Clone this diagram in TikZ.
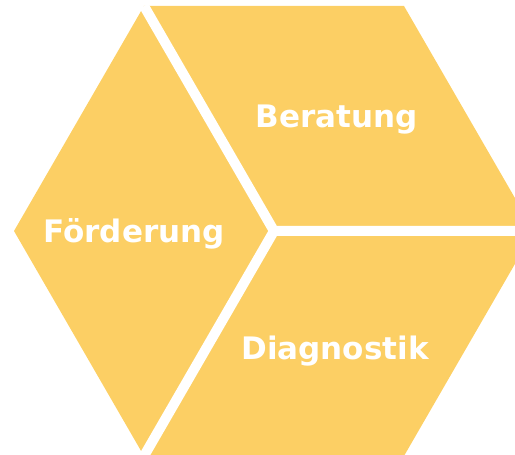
\documentclass[tikz,border=0pt]{standalone}
\usepackage{fontspec}
\setmainfont{DejaVu Sans}
\usepackage{xcolor}
\usepackage{tikz}
\definecolor{gelb}{RGB}{252,207,100}
\tikzset{
 feld/.style={fill=gelb, draw=none},
 fuge/.style={white, line width=10pt},
 wort/.style={text=white, font=\bfseries\fontsize{31}{34}\selectfont, anchor=base}
}

\begin{document}
\begin{tikzpicture}[x=1pt,y=1pt]
 \useasboundingbox (0,0) rectangle (515,455);
 \clip (0,0) rectangle (515,455);
 \coordinate (m) at (274,224);
 \coordinate (l) at (14,224);
 \coordinate (ol) at (144,449);
 \coordinate (or) at (404,449);
 \coordinate (r) at (534,224);
 \coordinate (ur) at (404,-1);
 \coordinate (ul) at (144,-1);
 % Rauten
 \fill[feld] (l) -- (ol) -- (m) -- (ul) -- cycle;
 \fill[feld] (ol) -- (or) -- (r) -- (m) -- cycle;
 \fill[feld] (m) -- (r) -- (ur) -- (ul) -- cycle;
 % Fugen
 \draw[fuge] (m) -- (ol)
 	(m) -- (r)
 	(m) -- (ul);
 %Ende Rauten
 \node[wort] (beratung) at (337,327) {Beratung};
 \node[wort] (foerderung) at (134,212) {Förderung};
 \node[wort] (diagnostik) at (335,95) {Diagnostik};
\end{tikzpicture}
\end{document}
